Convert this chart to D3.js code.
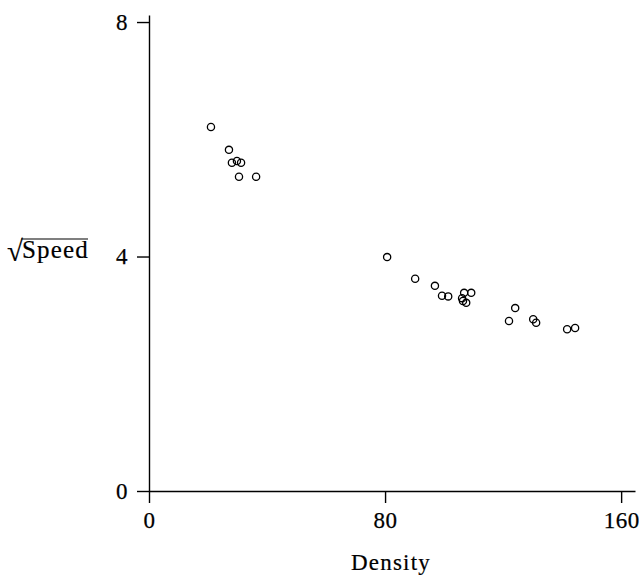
<!DOCTYPE html>
<html lang="en">
<head>
    <meta charset="UTF-8">
    <title>Speed vs Density</title>
    <script src="https://d3js.org/d3.v7.min.js"></script>
    <style>
        body { margin: 0; background: #fff; }
        svg text { font-family: "Liberation Serif", serif; fill: #000; }
    </style>
</head>
<body>
    <script>
        // Data
        const density = [21.0, 27.1, 28.1, 29.8, 31.2, 30.5, 36.3,
                         80.7, 90.2, 96.9, 99.3, 101.4, 106.8, 109.2, 106.1, 106.4, 107.5,
                         124.1, 122.0, 130.2, 131.2, 141.7, 144.4];
        const sqrtSpeed = [6.21, 5.82, 5.60, 5.63, 5.60, 5.36, 5.36,
                           3.99, 3.62, 3.50, 3.33, 3.32, 3.38, 3.38, 3.29, 3.24, 3.21,
                           3.12, 2.90, 2.93, 2.87, 2.76, 2.78];
        const xTicks = [0, 80, 160];
        const yTicks = [0, 4, 8];

        const width = 639, height = 577;
        const serif = "Liberation Serif, serif";
        const svg = d3.select("body").append("svg")
            .attr("width", width)
            .attr("height", height);

        // Scales (axis lines run a bit past the last tick)
        const x = d3.scaleLinear().domain([0, 164.7]).range([149, 635]);
        const y = d3.scaleLinear().domain([0, 8.12]).range([491, 15]);

        const xAxis = svg.append("g")
            .attr("transform", `translate(0,${y(0)})`)
            .call(d3.axisBottom(x).tickValues(xTicks).tickSize(12).tickSizeOuter(0).tickPadding(9));

        const yAxis = svg.append("g")
            .attr("transform", `translate(${x(0)},0)`)
            .call(d3.axisLeft(y).tickValues(yTicks).tickSize(12).tickSizeOuter(0).tickPadding(9));

        [xAxis, yAxis].forEach(g => {
            g.attr("font-family", serif).attr("font-size", 23);
            g.selectAll("path, line").attr("stroke", "#000").attr("stroke-width", 1.4);
            g.selectAll("text")
                .attr("font-family", serif)
                .attr("font-size", 23)
                .attr("letter-spacing", 0.5)
                .attr("stroke", "#000")
                .attr("stroke-width", 0.25)
                .attr("fill", "#000");
        });

        // Points
        const pts = density.map((d, i) => ({ d, s: sqrtSpeed[i] }));
        svg.append("g").selectAll("circle")
            .data(pts)
            .enter().append("circle")
            .attr("cx", p => x(p.d))
            .attr("cy", p => y(p.s))
            .attr("r", 3.6)
            .attr("fill", "none")
            .attr("stroke", "#000")
            .attr("stroke-width", 1.3);

        // X label
        svg.append("text")
            .attr("x", 391)
            .attr("y", 570)
            .attr("text-anchor", "middle")
            .attr("font-family", serif)
            .attr("font-size", 23)
            .attr("letter-spacing", 1.2)
            .attr("stroke", "#000")
            .attr("stroke-width", 0.2)
            .text("Density");

        // Y label: radical sign with an overline over "Speed"
        const ylab = svg.append("text")
            .attr("x", 7)
            .attr("y", 258)
            .attr("font-family", serif)
            .attr("stroke", "#000")
            .attr("stroke-width", 0.2)
            .attr("font-size", 25);
        ylab.append("tspan").attr("font-size", 29).attr("dy", 3).text("√");
        ylab.append("tspan").attr("dy", -3).attr("dx", -1).attr("letter-spacing", 1.2).text("Speed");
        const bb = ylab.node().getBBox();
        const radEnd = 7 + ylab.node().getSubStringLength(0, 1) - 1.5;
        svg.append("line")
            .attr("x1", radEnd)
            .attr("x2", bb.x + bb.width - 1)
            .attr("y1", 239)
            .attr("y2", 239)
            .attr("stroke", "#000")
            .attr("stroke-width", 1.2);
    </script>
</body>
</html>
